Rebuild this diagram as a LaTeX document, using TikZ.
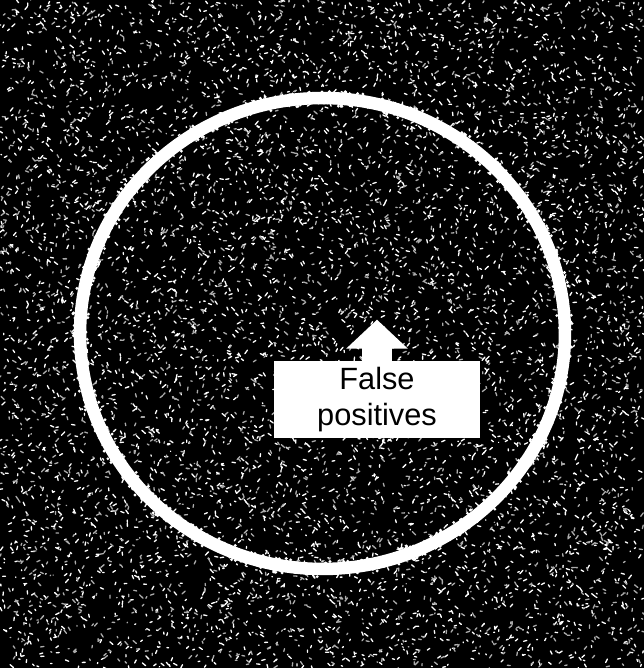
\documentclass[tikz,border=0pt]{standalone}
\usepackage{fontspec}
\setmainfont{Liberation Sans}
\usetikzlibrary{shapes.geometric, arrows.meta, positioning}

\begin{document}
\begin{tikzpicture}[
  x=0.02cm, y=-0.02cm,
  speck/.style={line width=0.75pt, line cap=round},
  ring/.style={draw=white, ellipse, line width=0.25cm, inner sep=0pt,
               minimum width=9.7cm, minimum height=9.42cm},
  tag/.style={fill=white, inner sep=0pt, minimum width=4.12cm,
              minimum height=1.54cm, align=center,
              font=\fontsize{17.5}{20.5}\selectfont},
  pointer/.style={white, line width=0.6cm,
                  -{Triangle[width=1.2cm, length=0.58cm]}}
]
\pgfmathsetseed{2718}
\useasboundingbox (0,0) rectangle (644,668);
\fill[black] (0,0) rectangle (644,668);

% speckle noise
\draw[speck, white] foreach \k in {1,...,4500}
  {({644*rnd},{668*rnd}) -- ++({3.5*rand},{3.5*rand})};
\draw[speck, gray!65] foreach \k in {1,...,3000}
  {({644*rnd},{668*rnd}) -- ++({3.5*rand},{3.5*rand})};

% ring and its ragged rim
\node[ring] (ring) at (322.5,333.5) {};
\foreach \k in {1,...,900}{
  \pgfmathsetmacro\ang{360*rnd}
  \pgfmathsetmacro\off{8*rand}
  \fill[white] ({322.5+(242.5+\off)*cos(\ang)},{333.5+(235.5+\off)*sin(\ang)}) circle (1.6);
}

% label with pointer
\node[tag] (fp) at (377,399.5) {False\\positives};
\coordinate[above=0.82cm of fp.north] (tip);
\draw[pointer] (fp.north) -- (tip);
\end{tikzpicture}
\end{document}
